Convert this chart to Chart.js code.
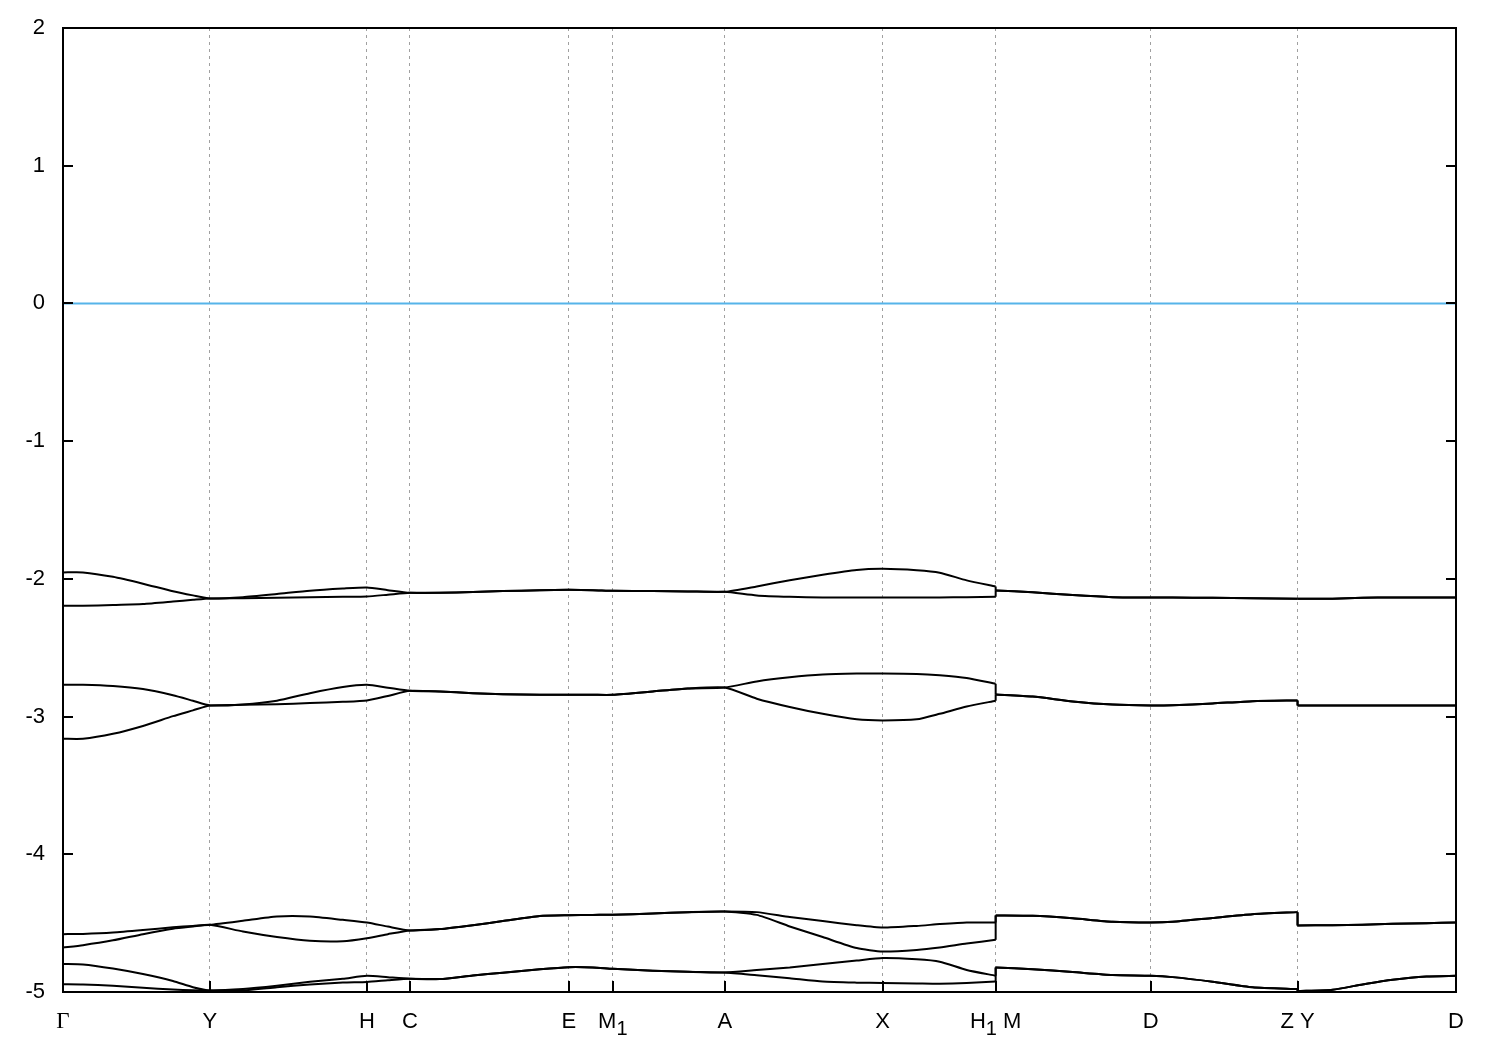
<!DOCTYPE html>
<html>
<head>
<meta charset="utf-8">
<title>Band structure</title>
<script src="https://cdn.jsdelivr.net/npm/chart.js@4.4.1/dist/chart.umd.min.js"></script>
<style>
    body { margin: 0; background: #fff; }
    canvas { display: block; }
</style>
</head>
<body>
<canvas id="bandChart" width="1500" height="1050"></canvas>
<script>
// k-path distance (same units along the whole path), breaks repeat the x value
const kpath = [
    0, 20, 50, 80, 110, 130, 147,
    180, 214, 247, 280, 304,
    325, 347,
    377, 410, 440, 477, 506,
    530, 550,
    590, 625, 662,
    694, 727, 760, 794, 820,
    854, 877, 904, 933,
    933, 970, 1010, 1050, 1088,
    1110, 1150, 1190, 1235,
    1235, 1270, 1300, 1330, 1364, 1393.5,
];

// high symmetry points, "_" marks a subscript
const kTickPos = [0, 147, 304, 347, 506, 550, 662, 820, 933, 1088, 1235, 1393.5];
const kTickLabels = ["Γ", "Y", "H", "C", "E", "M_1", "A", "X", "H_1 M", "D", "Z Y", "D"];

const yTicks = [-5, -4, -3, -2, -1, 0, 1, 2];

// energies (eV)
const band1 = [
    -1.953, -1.953, -1.985, -2.035, -2.09, -2.12, -2.142,
    -2.133, -2.11, -2.086, -2.07, -2.062,
    -2.082, -2.101,
    -2.101, -2.095, -2.089, -2.083, -2.08,
    -2.082, -2.087,
    -2.089, -2.091, -2.094,
    -2.055, -2.01, -1.97, -1.935, -1.927,
    -1.937, -1.955, -2.011, -2.055,
    -2.084, -2.097, -2.118, -2.133, -2.135,
    -2.136, -2.138, -2.14, -2.145,
    -2.145, -2.144, -2.137, -2.135, -2.135, -2.135,
];
const band2 = [
    -2.195, -2.195, -2.19, -2.183, -2.165, -2.152, -2.142,
    -2.14, -2.137, -2.133, -2.13, -2.128,
    -2.115, -2.101,
    -2.101, -2.095, -2.089, -2.083, -2.08,
    -2.082, -2.087,
    -2.089, -2.091, -2.094,
    -2.12, -2.13, -2.135, -2.135, -2.135,
    -2.135, -2.135, -2.133, -2.13,
    -2.084, -2.097, -2.118, -2.133, -2.135,
    -2.136, -2.138, -2.14, -2.145,
    -2.145, -2.144, -2.137, -2.135, -2.135, -2.135,
];
const band3 = [
    -2.769, -2.769, -2.778, -2.8, -2.845, -2.885, -2.919,
    -2.912, -2.885, -2.83, -2.785, -2.769,
    -2.79, -2.813,
    -2.818, -2.83, -2.838, -2.842, -2.842,
    -2.842, -2.842,
    -2.818, -2.796, -2.789,
    -2.745, -2.715, -2.695, -2.688, -2.687,
    -2.69, -2.7, -2.72, -2.762,
    -2.84, -2.855, -2.89, -2.913, -2.92,
    -2.918, -2.905, -2.888, -2.883,
    -2.92, -2.92, -2.92, -2.92, -2.92, -2.92,
];
const band4 = [
    -3.161, -3.161, -3.125, -3.068, -2.997, -2.955, -2.919,
    -2.915, -2.91, -2.902, -2.893, -2.883,
    -2.85, -2.813,
    -2.818, -2.83, -2.838, -2.842, -2.842,
    -2.842, -2.842,
    -2.818, -2.796, -2.789,
    -2.87, -2.93, -2.98, -3.02, -3.028,
    -3.02, -2.98, -2.927, -2.885,
    -2.84, -2.855, -2.89, -2.913, -2.92,
    -2.918, -2.905, -2.888, -2.883,
    -2.92, -2.92, -2.92, -2.92, -2.92, -2.92,
];
const band5 = [
    -4.58, -4.578, -4.568, -4.55, -4.53, -4.52, -4.512,
    -4.483, -4.452, -4.452, -4.476, -4.495,
    -4.525, -4.553,
    -4.543, -4.515, -4.485, -4.448, -4.442,
    -4.44, -4.439,
    -4.43, -4.42, -4.415,
    -4.42, -4.456, -4.485, -4.515, -4.532,
    -4.52, -4.507, -4.495, -4.495,
    -4.444, -4.447, -4.465, -4.49, -4.495,
    -4.49, -4.462, -4.435, -4.42,
    -4.517, -4.515, -4.512, -4.505, -4.5, -4.495,
];
const band6 = [
    -4.677, -4.66, -4.625, -4.58, -4.54, -4.524, -4.512,
    -4.561, -4.601, -4.628, -4.631, -4.609,
    -4.58, -4.553,
    -4.543, -4.515, -4.485, -4.448, -4.442,
    -4.44, -4.439,
    -4.43, -4.42, -4.415,
    -4.44, -4.524, -4.601, -4.681, -4.706,
    -4.695, -4.677, -4.648, -4.621,
    -4.444, -4.447, -4.465, -4.49, -4.495,
    -4.49, -4.462, -4.435, -4.42,
    -4.517, -4.515, -4.512, -4.505, -4.5, -4.495,
];
const band7 = [
    -4.797, -4.8, -4.83, -4.87, -4.92, -4.965, -4.989,
    -4.979, -4.955, -4.926, -4.904, -4.882,
    -4.893, -4.904,
    -4.906, -4.88, -4.86, -4.835, -4.82,
    -4.822, -4.832,
    -4.845, -4.853, -4.858,
    -4.84, -4.822, -4.797, -4.772, -4.754,
    -4.763, -4.78, -4.84, -4.882,
    -4.822, -4.835, -4.855, -4.876, -4.882,
    -4.892, -4.925, -4.965, -4.979,
    -4.994, -4.983, -4.945, -4.911, -4.887, -4.882,
];
const band8 = [
    -4.943, -4.945, -4.955, -4.97, -4.982, -4.987, -4.989,
    -4.988, -4.965, -4.945, -4.931, -4.927,
    -4.915, -4.904,
    -4.906, -4.88, -4.86, -4.835, -4.82,
    -4.822, -4.832,
    -4.845, -4.853, -4.858,
    -4.878, -4.9, -4.924, -4.932, -4.935,
    -4.938, -4.94, -4.935, -4.924,
    -4.822, -4.835, -4.855, -4.876, -4.882,
    -4.892, -4.925, -4.965, -4.979,
    -4.994, -4.983, -4.945, -4.911, -4.887, -4.882,
];
const bands = [band1, band2, band3, band4, band5, band6, band7, band8];

const fermiLevel = 0;

const FAMILY = "'Liberation Sans', Arial, Helvetica, sans-serif";
const FONT = { family: FAMILY, size: 22, lineHeight: 1 };

// splits "M_1" into pieces, subscript drawn lower and a bit smaller
const labelPieces = (label) => {
    const pieces = [];
    label.split(/(_\d)/).forEach((part) => {
        if (part === "") return;
        if (part[0] === "_") pieces.push({ text: part.slice(1), sub: true });
        else pieces.push({ text: part, sub: false });
    });
    return pieces;
};

// frame, inward tick marks and x labels like gnuplot
const framePlugin = {
    id: "frame",
    afterDraw: (chart) => {
        const ctx = chart.ctx;
        const area = chart.chartArea;
        const xs = chart.scales.x;
        const ys = chart.scales.y;
        ctx.save();
        ctx.strokeStyle = "#000";
        ctx.lineWidth = 2;
        ctx.beginPath();
        yTicks.forEach((v) => {
            const py = Math.round(ys.getPixelForValue(v));
            ctx.moveTo(area.left, py);
            ctx.lineTo(area.left + 10, py);
            ctx.moveTo(area.right, py);
            ctx.lineTo(area.right - 10, py);
        });
        kTickPos.forEach((v) => {
            const px = Math.round(xs.getPixelForValue(v));
            ctx.moveTo(px, area.bottom);
            ctx.lineTo(px, area.bottom - 11);
        });
        ctx.stroke();
        ctx.strokeRect(area.left, area.top, area.right - area.left, area.bottom - area.top);

        ctx.fillStyle = "#000";
        ctx.textBaseline = "alphabetic";
        ctx.textAlign = "left";
        const baseline = area.bottom + 36;
        kTickPos.forEach((v, i) => {
            const pieces = labelPieces(kTickLabels[i]);
            const fontOf = (p) => {
                if (p.text === "Γ") return "23px 'Liberation Serif', 'DejaVu Serif', serif";
                return (p.sub ? "20px " : "22px ") + FAMILY;
            };
            let total = 0;
            pieces.forEach((p) => {
                ctx.font = fontOf(p);
                p.w = ctx.measureText(p.text).width;
                total += p.w;
            });
            let x = xs.getPixelForValue(v) - total / 2;
            pieces.forEach((p) => {
                ctx.font = fontOf(p);
                ctx.fillText(p.text, x, baseline + (p.sub ? 7 : 0));
                x += p.w;
            });
        });
        ctx.restore();
    },
};

// path breaks: where the k value repeats
const breaks = [];
kpath.forEach((k, i) => {
    if (i > 0 && k === kpath[i - 1]) breaks.push(i);
});
const segStarts = [0, ...breaks];
const segEnds = [...breaks, kpath.length];

const lineStyle = {
    borderColor: "#000",
    borderWidth: 2,
    pointRadius: 0,
    fill: false,
};

const datasets = [];
bands.forEach((band, b) => {
    segStarts.forEach((s, n) => {
        const pts = [];
        for (let j = s; j < segEnds[n]; j++) pts.push({ x: kpath[j], y: band[j] });
        datasets.push({ label: "band " + (b + 1), data: pts, tension: 0.2, ...lineStyle });
    });
    // vertical jump at each break
    breaks.forEach((i) => {
        datasets.push({
            label: "band " + (b + 1),
            data: [
                { x: kpath[i - 1], y: band[i - 1] },
                { x: kpath[i], y: band[i] },
            ],
            tension: 0,
            ...lineStyle,
        });
    });
});
datasets.push({
    label: "E_F",
    data: [
        { x: kpath[0], y: fermiLevel },
        { x: kpath[kpath.length - 1], y: fermiLevel },
    ],
    borderColor: "#56b4e9",
    borderWidth: 2,
    pointRadius: 0,
    fill: false,
});

const ctx = document.getElementById("bandChart").getContext("2d");
const myChart = new Chart(ctx, {
    type: "line",
    data: { datasets: datasets },
    plugins: [framePlugin],
    options: {
        responsive: false,
        animation: false,
        devicePixelRatio: 1,
        layout: { padding: { top: 28, right: 44, left: 0, bottom: 0 } },
        plugins: {
            legend: { display: false },
            tooltip: { enabled: false },
        },
        scales: {
            x: {
                type: "linear",
                min: 0,
                max: 1393.5,
                afterBuildTicks: (scale) => {
                    scale.ticks = kTickPos.map((v) => ({ value: v }));
                },
                afterFit: (scale) => {
                    scale.height = 58;
                },
                ticks: {
                    autoSkip: false,
                    maxRotation: 0,
                    color: "rgba(0,0,0,0)",
                    font: FONT,
                    callback: (value, index) => kTickLabels[index],
                },
                grid: {
                    color: "#a0a0a0",
                    lineWidth: 1,
                    drawTicks: false,
                },
                border: { display: false, dash: [3, 4] },
            },
            y: {
                min: -5,
                max: 2,
                afterBuildTicks: (scale) => {
                    scale.ticks = yTicks.map((v) => ({ value: v }));
                },
                afterFit: (scale) => {
                    scale.width = 63;
                    scale.paddingTop = 0;
                    scale.paddingBottom = 0;
                },
                ticks: {
                    padding: 18,
                    color: "#000",
                    font: FONT,
                },
                grid: { display: false, drawTicks: false },
                border: { display: false },
            },
        },
    },
});
</script>
</body>
</html>
